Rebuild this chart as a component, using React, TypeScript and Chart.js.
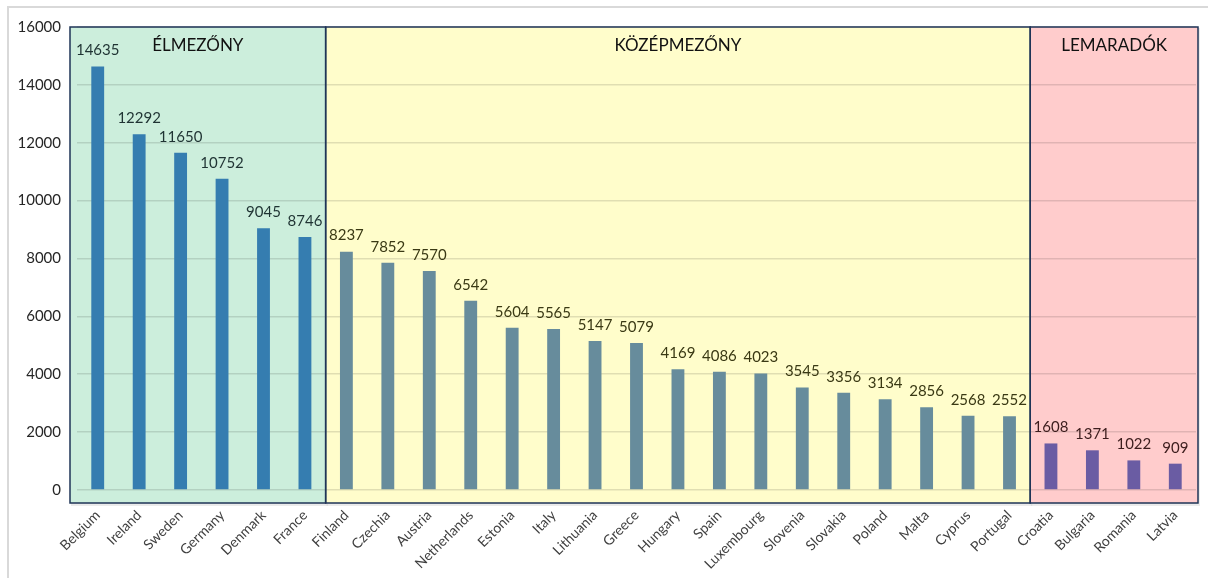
import React, { useEffect, useRef } from "react";
import { Chart, registerables } from "chart.js";

Chart.register(...registerables);

const countries = [
  "Belgium", "Ireland", "Sweden", "Germany", "Denmark", "France",
  "Finland", "Czechia", "Austria", "Netherlands", "Estonia", "Italy", "Lithuania",
  "Greece", "Hungary", "Spain", "Luxembourg", "Slovenia", "Slovakia", "Poland",
  "Malta", "Cyprus", "Portugal",
  "Croatia", "Bulgaria", "Romania", "Latvia",
];
const values = [
  14635, 12292, 11650, 10752, 9045, 8746,
  8237, 7852, 7570, 6542, 5604, 5565, 5147, 5079, 4169, 4086, 4023, 3545, 3356, 3134, 2856, 2568, 2552,
  1608, 1371, 1022, 909,
];
// group index per country: 0 = élmezőny, 1 = középmezőny, 2 = lemaradók
const groupOf = [
  0, 0, 0, 0, 0, 0,
  1, 1, 1, 1, 1, 1, 1, 1, 1, 1, 1, 1, 1, 1, 1, 1, 1,
  2, 2, 2, 2,
];
const groupNames = ["ÉLMEZŐNY", "KÖZÉPMEZŐNY", "LEMARADÓK"];
const groupFills = ["#CCEEDC", "#FFFDCB", "#FFCCCC"];
const barColors = ["#357DB0", "#678C9C", "#6A5CA3"];
const labelColors = ["#1f3333", "#3a3914", "#3c1d1d"];
const yTicks = [0, 2000, 4000, 6000, 8000, 10000, 12000, 14000, 16000];

const FONT = "Lato, 'Open Sans', sans-serif";

function groupBounds(chart: any, g: number): [number, number] {
  const { chartArea, scales } = chart;
  const x = scales.x;
  const idx = groupOf.map((v, i) => (v === g ? i : -1)).filter((i) => i >= 0);
  let l = x.getPixelForValue(idx[0] - 0.5);
  let r = x.getPixelForValue(idx[idx.length - 1] + 0.5);
  if (g === 0) l = chartArea.left - 7;
  if (g === groupNames.length - 1) r = chartArea.right + 2;
  return [l, r];
}

const zonesPlugin = {
  id: "zones",
  beforeDraw(chart: any) {
    const { ctx, chartArea, scales } = chart;
    const top = scales.y.getPixelForValue(16000);
    const bottom = chartArea.bottom;
    ctx.save();
    groupNames.forEach((_, g) => {
      const [l, r] = groupBounds(chart, g);
      ctx.fillStyle = "rgba(0,0,0,0.08)";
      ctx.fillRect(l + 1, top + 1, r - l + 1, bottom - top + 2);
      ctx.fillStyle = groupFills[g];
      ctx.fillRect(l, top, r - l, bottom - top);
    });
    ctx.restore();
  },
  beforeDatasetsDraw(chart: any) {
    const { ctx, chartArea, scales } = chart;
    const top = scales.y.getPixelForValue(16000);
    const bottom = chartArea.bottom;
    ctx.save();
    ctx.strokeStyle = "#1F3557";
    ctx.lineWidth = 1.5;
    groupNames.forEach((name, g) => {
      const [l, r] = groupBounds(chart, g);
      ctx.strokeRect(l, top, r - l, bottom - top);
      ctx.fillStyle = "#111111";
      ctx.font = `17px ${FONT}`;
      ctx.textAlign = "center";
      ctx.textBaseline = "middle";
      ctx.fillText(name, (l + r) / 2, top + 19);
    });
    ctx.restore();
  },
  afterDatasetsDraw(chart: any) {
    const { ctx } = chart;
    const meta = chart.getDatasetMeta(0);
    ctx.save();
    ctx.font = `15px ${FONT}`;
    ctx.textAlign = "center";
    ctx.textBaseline = "middle";
    meta.data.forEach((bar: any, i: number) => {
      ctx.fillStyle = labelColors[groupOf[i]];
      ctx.fillText(String(values[i]), bar.x, bar.y - 16);
    });
    ctx.restore();
  },
};

export default function App() {
  const canvasRef = useRef<HTMLCanvasElement | null>(null);

  useEffect(() => {
    if (!canvasRef.current) return;
    const chart = new Chart(canvasRef.current, {
      type: "bar",
      data: {
        labels: countries,
        datasets: [
          {
            data: values,
            backgroundColor: groupOf.map((g) => barColors[g]),
            categoryPercentage: 1,
            barPercentage: 0.31,
          },
        ],
      },
      options: {
        animation: false,
        responsive: false,
        devicePixelRatio: 1,
        layout: { padding: { left: 0, top: 27, right: 12, bottom: 0 } },
        plugins: {
          legend: { display: false },
          tooltip: { enabled: false },
          title: { display: false },
        },
        scales: {
          x: {
            offset: true,
            grid: { display: false, drawTicks: false },
            border: { display: false },
            ticks: {
              autoSkip: false,
              maxRotation: 45,
              minRotation: 45,
              padding: 4,
              color: "#404040",
              font: { family: FONT, size: 14 },
            },
            afterFit(scale: any) {
              scale.height = 75;
            },
          },
          y: {
            min: -450,
            max: 16000,
            grid: { color: "rgba(0,0,0,0.12)", lineWidth: 1.5, drawTicks: false },
            border: { display: false },
            ticks: {
              padding: 16,
              color: "#262626",
              font: { family: FONT, size: 15 },
              callback: (v: any) => String(v),
            },
            afterBuildTicks(scale: any) {
              scale.ticks = yTicks.map((v) => ({ value: v }));
            },
            afterFit(scale: any) {
              scale.width = 77;
            },
          },
        },
      },
      plugins: [zonesPlugin],
    });
    return () => chart.destroy();
  }, []);

  return (
    <div style={{ position: "fixed", left: 0, top: 0, width: 1208, height: 578, background: "#ffffff", overflow: "hidden" }}>
      <div
        style={{
          position: "absolute",
          left: 7,
          top: 6,
          width: 1220,
          height: 600,
          borderLeft: "2px solid #d9d9d9",
          borderTop: "2px solid #d9d9d9",
        }}
      />
      <canvas ref={canvasRef} width={1208} height={578} style={{ position: "absolute", left: 0, top: 0 }} />
    </div>
  );
}
